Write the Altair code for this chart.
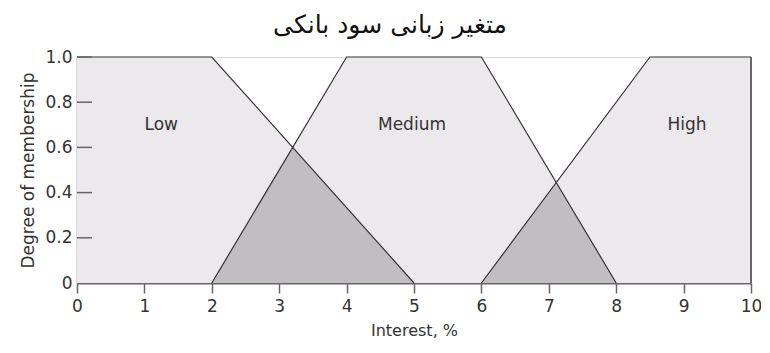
import altair as alt
import pandas as pd

# Membership function corner points
low_x = [0, 2, 5]
low_y = [1.0, 1.0, 0.0]
medium_x = [2, 4, 6, 8]
medium_y = [0.0, 1.0, 1.0, 0.0]
high_x = [6, 8.5, 10, 10]
high_y = [0.0, 1.0, 1.0, 0.0]

# Overlap regions (darker triangles)
overlap1_x = [2, 3.2, 5]
overlap1_y = [0.0, 0.6, 0.0]
overlap2_x = [6, 7.11, 8]
overlap2_y = [0.0, 0.44, 0.0]

# Set labels
label_text = ["Low", "Medium", "High"]
label_x = [1.25, 4.97, 9.05]
label_y = [0.70, 0.70, 0.70]

x_ticks = [0, 1, 2, 3, 4, 5, 6, 7, 8, 9, 10]
y_ticks = [0, 0.2, 0.4, 0.6, 0.8, 1.0]

title_text = "متغیر زبانی سود بانکی"
x_title = "Interest, %"
y_title = "Degree of membership"


def poly(name, xs, ys):
    return pd.DataFrame({"set": name, "x": xs, "y": ys, "i": list(range(len(xs)))})


shapes = pd.concat([
    poly("Low", low_x, low_y),
    poly("Medium", medium_x, medium_y),
    poly("High", high_x[:3], high_y[:3]),
])
edge = pd.DataFrame({"ex": [high_x[-1]], "ey": [high_y[2]], "ey2": [high_y[-1]]})
overlaps = pd.concat([
    poly("o1", overlap1_x, overlap1_y),
    poly("o2", overlap2_x, overlap2_y),
])
labels = pd.DataFrame({"t": label_text, "x": label_x, "y": label_y})
yt = pd.DataFrame({"v": [v for v in y_ticks if v > 0]})

FONT = "DejaVu Sans"
xs = alt.Scale(domain=[0, 10], nice=False)
ys = alt.Scale(domain=[0, 1], nice=False)

x_axis = alt.Axis(values=x_ticks, format="d", tickSize=10, tickColor="#666",
                  tickWidth=1.5, domainColor="#666", domainWidth=2,
                  labelFont=FONT, labelFontSize=17, labelColor="#333",
                  labelPadding=5, titleFont=FONT, titleFontSize=16,
                  titleFontWeight="normal", titleColor="#333", titlePadding=8,
                  grid=False, labelFlush=False)
y_axis = alt.Axis(values=y_ticks, ticks=False, domainColor="#666", domainWidth=1.5,
                  labelExpr="datum.value == 0 ? '0' : format(datum.value, '.1f')",
                  labelFont=FONT, labelFontSize=17, labelColor="#333",
                  labelPadding=5, titleFont=FONT, titleFontSize=17,
                  titleFontWeight="normal", titleColor="#333", titlePadding=7,
                  grid=False, labelFlush=False)

fill = alt.Chart(shapes).mark_area(fill="#ebe9eb", fillOpacity=1, stroke=None).encode(
    x=alt.X("x:Q", scale=xs, title=x_title, axis=x_axis),
    y=alt.Y("y:Q", scale=ys, stack=None, title=y_title, axis=y_axis),
    detail="set:N")
dark = alt.Chart(overlaps).mark_area(fill="#c0bec1", fillOpacity=1, stroke=None).encode(
    x=alt.X("x:Q", scale=xs), y=alt.Y("y:Q", scale=ys, stack=None),
    detail="set:N")
outline = alt.Chart(shapes).mark_line(color="#333", strokeWidth=1.2).encode(
    x=alt.X("x:Q", scale=xs), y=alt.Y("y:Q", scale=ys),
    detail="set:N", order="i:Q")
right_edge = alt.Chart(edge).mark_rule(color="#333", strokeWidth=1.4).encode(
    x=alt.X("ex:Q", scale=xs), y=alt.Y("ey:Q", scale=ys), y2=alt.Y2("ey2:Q"))
yticks = alt.Chart(yt).mark_rule(color="#666", strokeWidth=1.5).encode(
    y=alt.Y("v:Q", scale=ys), x=alt.value(0), x2=alt.value(15))
text = alt.Chart(labels).mark_text(font=FONT, fontSize=17, color="#333").encode(
    x=alt.X("x:Q", scale=xs), y=alt.Y("y:Q", scale=ys), text="t:N")

chart = alt.layer(fill, dark, outline, right_edge, yticks, text).properties(
    width=674, height=226,
    padding={"left": 69, "top": 49, "right": 10, "bottom": 60},
    autosize="none",
    title=alt.TitleParams(title_text, font=FONT, fontSize=25, fontWeight="normal",
                          color="#111", anchor="middle", offset=10, dx=-24),
).configure_view(stroke=None).configure(background="white")

chart.save("out.html", embed_options={"renderer": "svg", "actions": False})
